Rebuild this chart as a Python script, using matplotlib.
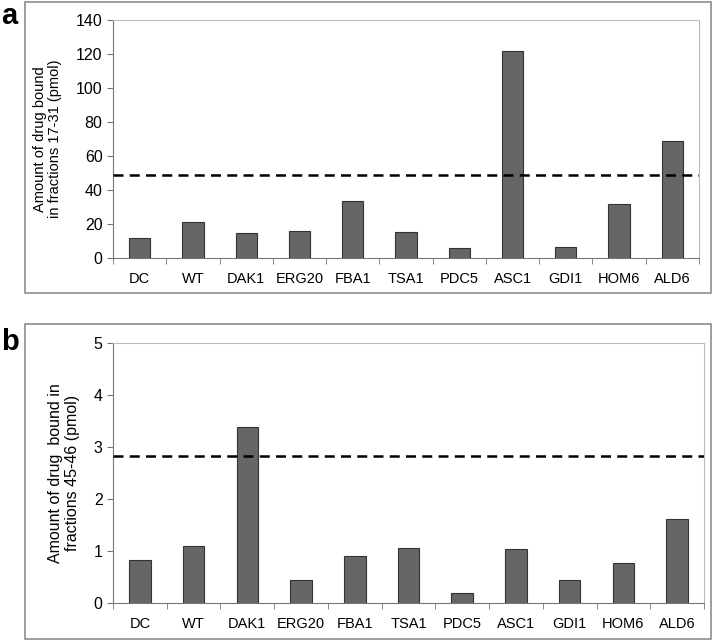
import matplotlib
matplotlib.use('Agg')
import matplotlib.pyplot as plt
from matplotlib.patches import Rectangle
import numpy as np

plt.rcParams['font.family'] = ['Liberation Sans', 'DejaVu Sans']

# Strains / proteins on the x axis
strains = ['DC', 'WT', 'DAK1', 'ERG20', 'FBA1', 'TSA1', 'PDC5', 'ASC1',
           'GDI1', 'HOM6', 'ALD6']
# Panel a: drug bound in fractions 17-31 (pmol)
bound_a = [11.6, 21.4, 14.9, 15.9, 33.5, 15.5, 5.7, 121.9, 6.6, 31.6, 68.8]
threshold_a = 48.8
# Panel b: drug bound in fractions 45-46 (pmol)
bound_b = [0.82, 1.10, 3.37, 0.43, 0.90, 1.06, 0.18, 1.03, 0.43, 0.77, 1.61]
threshold_b = 2.83

W, H = 714, 641
fig = plt.figure(figsize=(W / 100, H / 100), dpi=100)

# Outer panel frames
for x0, y0, x1, y1 in [(25, 2, 711, 293), (25, 324, 711, 639)]:
    fig.patches.append(Rectangle((x0 / W, 1 - y1 / H), (x1 - x0) / W,
                                 (y1 - y0) / H, transform=fig.transFigure,
                                 fill=False, edgecolor='#8c8c8c', lw=1.2))

fig.text(1 / W, 1 - 2 / H, 'a', fontsize=21, fontweight='bold', va='top')
fig.text(1 / W, 1 - 328 / H, 'b', fontsize=21, fontweight='bold', va='top')


def panel(rect, values, thr, ymax, step, ylabel, ylabel_size):
    ax = fig.add_axes(rect)
    x = np.arange(len(strains))
    ax.bar(x, values, width=0.4, color='#666666', edgecolor='#333333',
           lw=0.8, zorder=2)
    ax.axhline(thr, color='black', ls=(0, (4, 2.5)), lw=1.8, zorder=3)
    ax.set_xlim(-0.5, len(strains) - 0.5)
    ax.set_ylim(0, ymax)
    ax.set_yticks(np.arange(0, ymax + step / 2, step))
    ax.set_xticks(x)
    ax.set_xticklabels(strains)
    ax.set_xticks(np.arange(-0.5, len(strains)), minor=True)
    ax.tick_params(axis='x', which='major', length=0, labelsize=10.5, pad=10)
    ax.tick_params(axis='x', which='minor', length=4, color='#777777',
                   direction='out')
    ax.tick_params(axis='y', length=4, color='#777777', labelsize=11.5)
    for s in ['left', 'bottom']:
        ax.spines[s].set_color('#777777')
    for s in ['top', 'right']:
        ax.spines[s].set_color('#bbbbbb')
    ax.set_ylabel(ylabel, fontsize=ylabel_size, labelpad=10, linespacing=1.1)
    return ax


panel([113 / W, 1 - 258 / H, 586 / W, 238 / H], bound_a, threshold_a, 140,
      20, 'Amount of drug bound\nin fractions 17-31 (pmol)', 10.5)
panel([113 / W, 1 - 602.7 / H, 591 / W, 260 / H], bound_b, threshold_b, 5,
      1, 'Amount of drug  bound in\nfractions 45-46 (pmol)', 11.5)

fig.savefig('out.png', dpi=100)
